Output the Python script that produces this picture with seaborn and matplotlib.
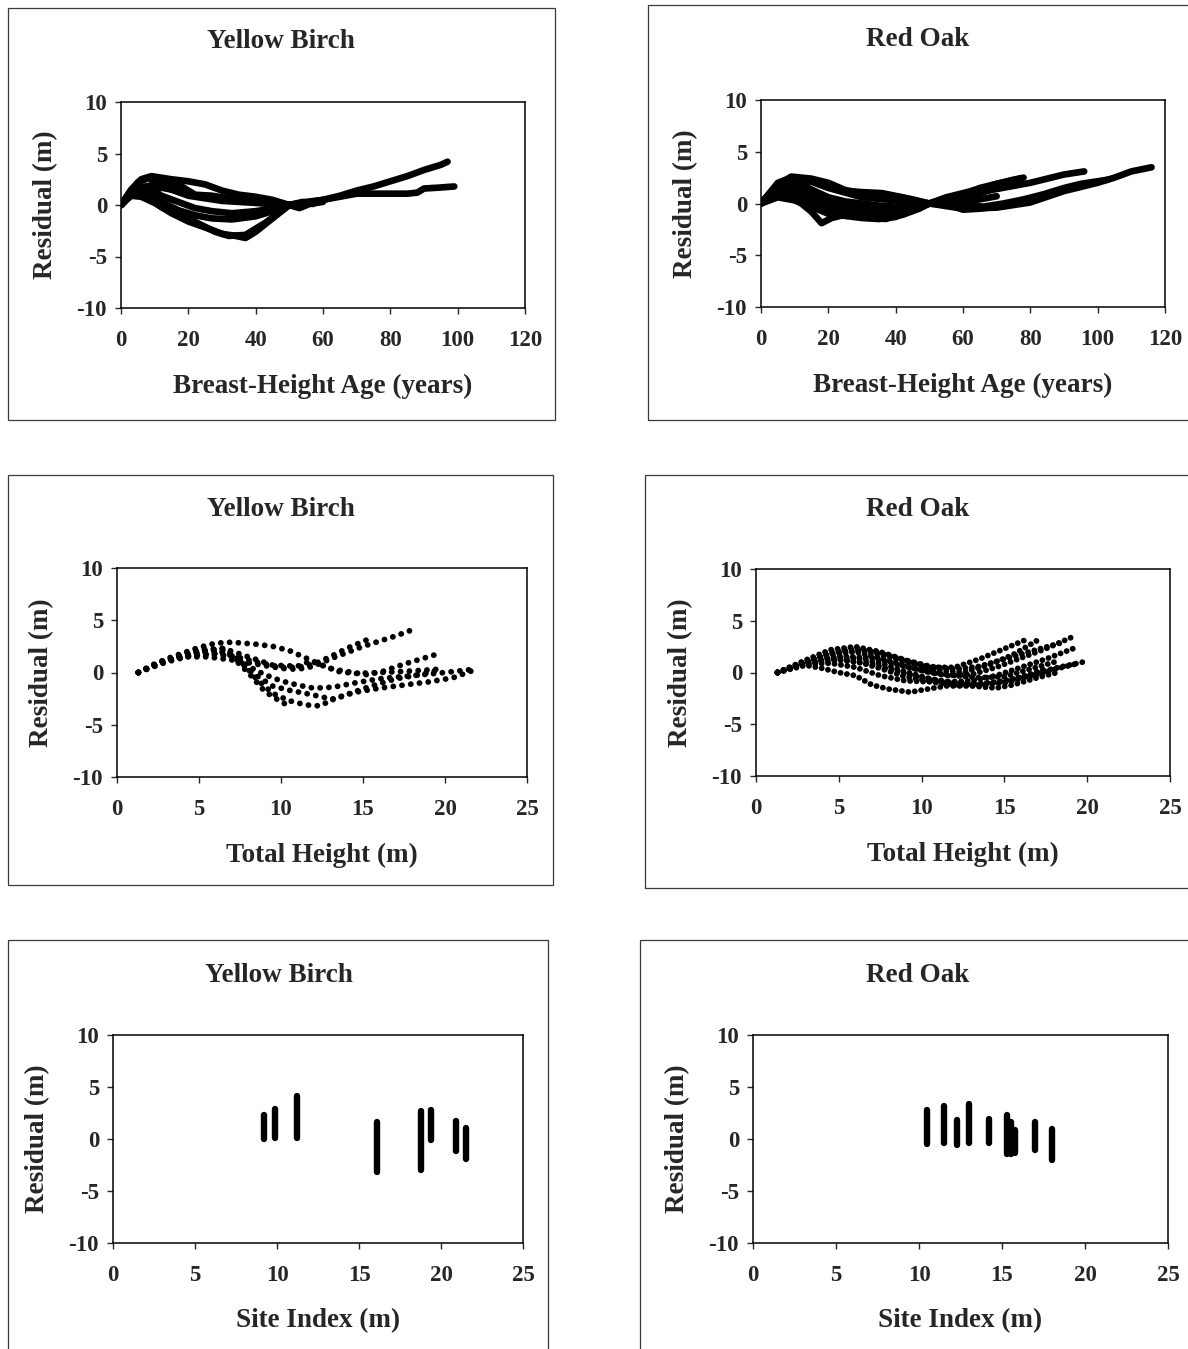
import numpy as np
import pandas as pd
import matplotlib
matplotlib.use("Agg")
import matplotlib.pyplot as plt
from matplotlib.patches import Rectangle
import seaborn as sns

sns.set_style("ticks")
plt.rcParams['font.family'] = ['Liberation Serif', 'DejaVu Serif']
plt.rcParams['axes.unicode_minus'] = False

# ---------------- data ----------------
# Yellow Birch: residual vs breast-height age, one list per tree
yb_age = [
    [0, 2, 5, 10, 15, 20, 30, 40, 50, 55, 60, 65, 70, 75, 80, 85, 90, 95, 97],
    [0, 2, 5, 10, 15, 20, 30, 40, 50, 55, 60, 65, 70, 75, 80, 85, 88, 90, 95, 99],
    [0, 3, 6, 9, 15, 20, 25, 30, 35, 40, 45, 50, 54, 57],
    [0, 5, 8, 12, 18, 22, 27, 35, 42, 50, 53, 56, 60],
    [0, 4, 8, 12, 17, 22, 27, 33, 40, 46, 50, 53],
    [0, 4, 8, 12, 17, 22, 27, 33, 40, 46, 50],
    [0, 3, 7, 12, 18, 23, 28, 32, 37, 43, 50],
    [0, 3, 6, 10, 15, 20, 26, 30, 34, 37, 40, 45, 50],
]
yb_age_res = [
    [0, 0.8, 1.5, 1.8, 1.5, 1.0, 0.6, 0.3, 0, 0.2, 0.5, 0.9, 1.4, 1.8, 2.3, 2.8, 3.4, 3.9, 4.2],
    [0, 0.9, 1.6, 2.0, 1.5, 0.9, 0.4, 0.2, 0, 0.3, 0.5, 0.8, 1.1, 1.1, 1.1, 1.1, 1.2, 1.6, 1.7, 1.8],
    [0, 1.5, 2.5, 2.8, 2.5, 2.3, 2.0, 1.4, 1.0, 0.8, 0.5, 0, 0.3, 0.1],
    [0, 2.2, 2.6, 2.3, 1.8, 1.0, 0.9, 0.5, 0.2, 0, -0.3, 0.1, 0.3],
    [0, 1.6, 1.8, 0.9, 0.3, -0.3, -0.6, -0.8, -0.6, -0.3, 0, -0.2],
    [0, 1.4, 1.2, 0.3, -0.5, -1.0, -1.3, -1.4, -1.1, -0.5, 0],
    [0, 1.0, 1.0, -0.2, -1.0, -1.8, -2.6, -3.0, -2.9, -1.7, 0],
    [0, 0.9, 0.8, 0.2, -0.8, -1.6, -2.3, -2.8, -3.0, -3.2, -2.6, -1.3, 0],
]

# Red Oak: residual vs breast-height age
ro_age = [
    [0, 5, 9, 15, 20, 25, 30, 35, 40, 45, 50, 55, 60, 65, 70, 77],
    [0, 5, 10, 15, 20, 30, 40, 50, 55, 60, 70, 80, 85, 90, 96],
    [0, 5, 10, 15, 20, 30, 40, 50, 60, 70, 80, 90, 100, 105, 110, 116],
    [0, 4, 8, 12, 15, 18, 21, 26, 32, 37, 42, 47, 50, 55, 60, 65, 70, 76],
    [0, 4, 8, 12, 16, 20, 25, 30, 36, 42, 47, 50, 55, 60, 66, 72, 78, 84, 90, 95, 103],
    [0, 5, 9, 14, 20, 25, 30, 36, 42, 47, 50, 55, 60, 65, 70, 75, 78],
    [0, 5, 10, 15, 20, 25, 30, 36, 42, 47, 50, 55, 60, 65, 70],
    [0, 5, 10, 15, 20, 25, 30, 36, 42, 47, 50, 55, 60, 65, 70, 75, 80],
    [0, 4, 8, 12, 16, 20, 25, 30, 35, 40, 45, 50, 55, 60, 65, 70, 75],
    [0, 5, 10, 15, 20, 25, 30, 35, 40, 45, 50, 55, 60, 65],
]
ro_age_res = [
    [0, 1.8, 2.6, 2.4, 2.0, 1.3, 1.0, 0.9, 0.7, 0.4, 0, 0.6, 1.0, 1.4, 1.9, 2.4],
    [0, 1.6, 2.2, 2.1, 1.5, 0.6, 0.3, 0, 0.5, 0.8, 1.4, 2.0, 2.4, 2.8, 3.1],
    [0, 1.0, 1.4, 1.0, 0.2, -0.5, -0.4, 0, -0.5, -0.4, 0.1, 1.2, 2.0, 2.5, 3.1, 3.5],
    [0, 0.8, 0.7, 0.0, -0.8, -1.9, -1.4, -1.0, -1.3, -1.5, -1.0, -0.4, 0, 0.3, 0.7, 1.0, 1.5, 2.2],
    [0, 1.2, 1.4, 0.8, 0.0, -0.5, -0.6, -0.8, -1.0, -0.8, -0.3, 0, 0.1, -0.2, -0.3, 0.0, 0.4, 0.9, 1.5, 1.9, 2.3],
    [0, 2.0, 2.5, 2.2, 1.8, 1.2, 1.1, 1.0, 0.6, 0.2, 0, 0.5, 0.9, 1.5, 1.9, 2.3, 2.5],
    [0, 1.3, 1.5, 0.6, -0.2, -0.8, -1.0, -1.4, -1.1, -0.5, 0, -0.1, 0.2, 0.4, 0.7],
    [0, 1.0, 0.6, 0.4, 0.0, -0.3, -0.4, -0.6, -0.5, -0.2, 0, 0.0, -0.6, -0.5, -0.3, 0.0, 0.3],
    [0, 1.5, 2.0, 1.8, 1.2, 0.6, 0.2, 0.0, -0.2, -0.3, -0.2, 0, 0.4, 0.7, 1.1, 1.5, 1.9],
    [0, 0.6, 0.3, -0.3, -1.0, -1.2, -1.4, -1.5, -1.3, -0.6, 0, 0.2, 0.5, 0.9],
]

# Yellow Birch: residual vs total height
yb_ht = [
    [1.3, 2.5, 4, 5.5, 7, 8.5, 10, 11, 12, 13, 14, 15, 16, 17, 18.2],
    [1.3, 2.5, 4, 5.5, 7, 8.5, 10, 11, 12, 13, 14, 15.2],
    [1.3, 3, 5, 6, 7, 8.5, 9.5, 10.5, 11.5, 12.5, 13.5, 14.5, 16, 17.5, 19.5],
    [1.3, 3, 5, 6.5, 8, 9.5, 11, 11.8, 13.2, 15.2, 16.2, 17.5, 19.4],
    [1.3, 3, 5, 6.5, 7.5, 8.5, 9.5, 10.5, 11.5, 12.4, 13.2, 14.5, 16, 17.5, 19, 20.5, 21.7],
    [1.3, 3, 5, 6.5, 7.5, 8.5, 9.5, 10.5, 11.5, 12.4, 13.2, 14.2, 15.5, 17, 18.5, 19.5],
    [1.3, 3, 4.5, 6, 7, 8, 9, 10, 11, 12, 13.2, 14.5, 16, 18, 20, 21.7],
    [1.3, 3, 4.5, 6, 7, 8, 9, 10, 10.5],
]
yb_ht_res = [
    [0, 1.0, 1.5, 1.5, 1.2, 0.8, 0.4, 0.3, 0.6, 1.3, 1.9, 2.5, 3.0, 3.5, 4.2],
    [0, 0.9, 1.6, 1.8, 1.6, 1.0, 0.5, 0.5, 0.8, 1.5, 2.3, 3.1],
    [0, 1.3, 2.4, 2.8, 2.9, 2.7, 2.5, 2.1, 1.4, 0.7, 0.1, -0.1, 0.0, 0.1, 0.3],
    [0, 1.2, 2.2, 2.3, 1.5, 0.7, 0.6, 1.1, 0.3, -0.2, 0.1, 0.8, 1.7],
    [0, 1.1, 2.0, 2.3, 1.2, -0.6, -2.0, -2.7, -3.1, -3.2, -2.5, -1.9, -1.5, -1.2, -0.9, -0.5, 0.2],
    [0, 1.2, 2.0, 2.1, 1.0, -0.3, -1.3, -1.7, -2.0, -2.3, -2.6, -2.0, -1.3, -0.6, -0.2, 0.2],
    [0, 1.2, 1.8, 2.2, 1.6, 0.6, -0.2, -0.8, -1.2, -1.5, -1.4, -1.0, -0.6, -0.3, 0.0, 0.3],
    [0, 1.0, 1.6, 1.8, 1.5, 0.0, -1.8, -2.8, -3.2],
]

# Red Oak: residual vs total height
ro_ht = [
    [1.3, 3, 4.5, 6, 7.5, 9, 10.5, 12, 13.5, 15, 16.2],
    [1.3, 3, 5, 6.5, 8, 9.5, 11, 12.5, 14, 15.5, 17.2],
    [1.3, 3, 5, 7, 8.5, 10, 11.5, 13, 14.5, 16, 17.5, 19.2],
    [1.3, 3, 5, 7, 8.5, 10, 11.5, 13, 14.5, 16, 17.5, 19.3],
    [1.3, 3, 4.5, 6, 7.5, 9, 10.5, 12, 13.5, 15, 16.5, 18, 20],
    [1.3, 3, 4, 5, 6, 7, 8, 9.3, 10, 11.5, 13, 14.5, 15.5, 17, 18.2],
    [1.3, 3, 4.5, 6, 7.5, 9, 10.5, 12, 13.5, 15, 16.5, 18],
    [1.3, 3, 4.5, 6, 7.5, 9, 10.5, 12, 13.5, 15, 16.5, 17.5],
    [1.3, 3, 4.5, 6, 7.5, 9, 10.5, 12, 13.5, 15, 16.5, 18.5],
    [1.3, 3, 4.5, 6, 7.5, 9, 10.5, 12, 13.5, 15, 16.5, 18, 19.5],
]
ro_ht_res = [
    [0, 1.2, 2.2, 2.5, 2.0, 1.2, 0.5, 0.5, 1.3, 2.3, 3.1],
    [0, 1.1, 2.0, 2.1, 1.5, 0.8, 0.2, 0.0, 0.7, 1.7, 3.3],
    [0, 1.0, 1.6, 1.4, 0.8, 0.2, -0.3, -0.2, 0.5, 1.4, 2.3, 3.5],
    [0, 0.9, 1.2, 0.8, 0.1, -0.5, -0.9, -0.8, -0.3, 0.5, 1.3, 2.4],
    [0, 0.8, 0.9, 0.5, -0.3, -0.8, -0.9, -1.2, -1.1, -0.8, -0.3, 0.4, 1.1],
    [0, 0.7, 0.4, 0.0, -0.3, -1.2, -1.6, -1.9, -1.7, -1.3, -1.3, -1.5, -1.2, -0.5, 0.0],
    [0, 1.0, 1.8, 2.0, 1.4, 0.6, 0.0, -0.3, -0.5, -0.4, 0.3, 1.0],
    [0, 0.9, 1.3, 1.1, 0.4, -0.4, -0.8, -1.0, -1.1, -0.9, -0.2, 0.4],
    [0, 1.1, 1.9, 2.3, 1.9, 1.2, 0.6, 0.3, 0.6, 1.3, 2.0, 2.9],
    [0, 0.9, 1.4, 1.4, 0.9, 0.1, -0.6, -1.0, -1.2, -1.0, -0.4, 0.3, 0.9],
]

# Residual range per tree vs site index
yb_si = [9.2, 9.9, 11.2, 16.1, 18.8, 19.4, 20.9, 21.5]
yb_si_min = [0.0, 0.1, 0.1, -3.2, -3.0, -0.1, -1.2, -1.9]
yb_si_max = [2.3, 2.9, 4.1, 1.6, 2.7, 2.8, 1.7, 1.1]

ro_si = [10.5, 11.5, 12.3, 13.0, 14.2, 15.3, 15.55, 15.8, 17.0, 18.0]
ro_si_min = [-0.5, -0.4, -0.6, -0.4, -0.4, -1.4, -1.4, -1.3, -1.1, -2.0]
ro_si_max = [2.8, 3.2, 1.8, 3.4, 1.9, 2.3, 1.6, 0.9, 1.6, 1.0]

titles = ["Yellow Birch", "Red Oak"]
xlabels = ["Breast-Height Age (years)", "Total Height (m)", "Site Index (m)"]
ylabel = "Residual (m)"
yticks = [-10, -5, 0, 5, 10]
xticks_age = [0, 20, 40, 60, 80, 100, 120]
xticks_m = [0, 5, 10, 15, 20, 25]


def long_df(xs, ys):
    rows = []
    for i, (xx, yy) in enumerate(zip(xs, ys)):
        for a, b in zip(xx, yy):
            rows.append((i, a, b))
    return pd.DataFrame(rows, columns=["tree", "x", "res"])


def range_df(si, lo, hi):
    rows = []
    for i, (s, a, b) in enumerate(zip(si, lo, hi)):
        rows.append((i, s, a))
        rows.append((i, s, b))
    return pd.DataFrame(rows, columns=["tree", "x", "res"])


# ---------------- figure ----------------
W, H = 1188, 1349
fig = plt.figure(figsize=(W / 100, H / 100), dpi=100)


def px_axes(x0, x1, y0, y1):
    return fig.add_axes([x0 / W, 1 - y1 / H, (x1 - x0) / W, (y1 - y0) / H])


def frame(x0, x1, y0, y1):
    fig.add_artist(Rectangle((x0 / W, 1 - y1 / H), (x1 - x0) / W, (y1 - y0) / H,
                             transform=fig.transFigure, fill=False,
                             ec="#3a3a3a", lw=0.9))


frames = [(8, 555, 8, 420), (648, 1195, 5, 420),
          (8, 553, 475, 885), (645, 1195, 475, 888),
          (8, 548, 940, 1360), (640, 1195, 940, 1360)]
for f in frames:
    frame(*f)

# centre of each frame (titles are centred on the frame)
title_cx = [281, 918, 281, 918, 279, 918]
title_cy = [42, 40, 509, 509, 975, 976]

boxes = [(121, 525, 102, 308), (761, 1165, 100, 307),
         (117, 527, 568, 777), (756, 1170, 569, 776),
         (113, 523, 1035, 1243), (753, 1168, 1035, 1243)]

datasets = [
    (long_df(yb_age, yb_age_res), "solid", None),
    (long_df(ro_age, ro_age_res), "solid", None),
    (long_df(yb_ht, yb_ht_res), "dots", 1.5),
    (long_df(ro_ht, ro_ht_res), "dots", 1.1),
    (range_df(yb_si, yb_si_min, yb_si_max), "bar", None),
    (range_df(ro_si, ro_si_min, ro_si_max), "bar", None),
]

for k, (box, (df, kind, gap)) in enumerate(zip(boxes, datasets)):
    ax = px_axes(*box)
    row, col = divmod(k, 2)
    if kind == "solid":
        sns.lineplot(data=df, x="x", y="res", units="tree", estimator=None,
                     sort=False, color="black", lw=4.8, ax=ax,
                     solid_capstyle="round", solid_joinstyle="round")
    elif kind == "dots":
        sns.lineplot(data=df, x="x", y="res", units="tree", estimator=None,
                     sort=False, color="black", lw=4.2, ax=ax,
                     linestyle=(0, (0.01, gap)), dash_capstyle="round")
    else:
        sns.lineplot(data=df, x="x", y="res", units="tree", estimator=None,
                     sort=False, color="black", lw=4.6, ax=ax,
                     solid_capstyle="round")
    if row == 0:
        ax.set_xlim(0, 120)
        ax.set_xticks(xticks_age)
    else:
        ax.set_xlim(0, 25)
        ax.set_xticks(xticks_m)
    ax.set_ylim(-10, 10)
    ax.set_yticks(yticks)
    for s in ax.spines.values():
        s.set_visible(True)
        s.set_linewidth(1.1)
        s.set_color("black")
    ax.tick_params(direction="out", length=4, width=1, labelsize=16.5,
                   top=False, right=False)
    ax.tick_params(axis="x", pad=12)
    ax.tick_params(axis="y", pad=6)
    for t in ax.get_xticklabels() + ax.get_yticklabels():
        t.set_fontweight("bold")
    bw = box[1] - box[0]
    bh = box[3] - box[2]
    ax.set_xlabel(xlabels[row], fontsize=19.5, fontweight="bold")
    ax.xaxis.set_label_coords(0.5, -78 / bh)
    ax.xaxis.label.set_va("center")
    ax.set_ylabel(ylabel, fontsize=19.5, fontweight="bold")
    ax.yaxis.set_label_coords(-75 / bw, 0.5)
    ax.yaxis.label.set_va("center")
    fig.text(title_cx[k] / W, 1 - title_cy[k] / H, titles[col],
             ha="center", va="center", fontsize=19.5, fontweight="bold")

fig.savefig("out.png", dpi=100, facecolor="white")
